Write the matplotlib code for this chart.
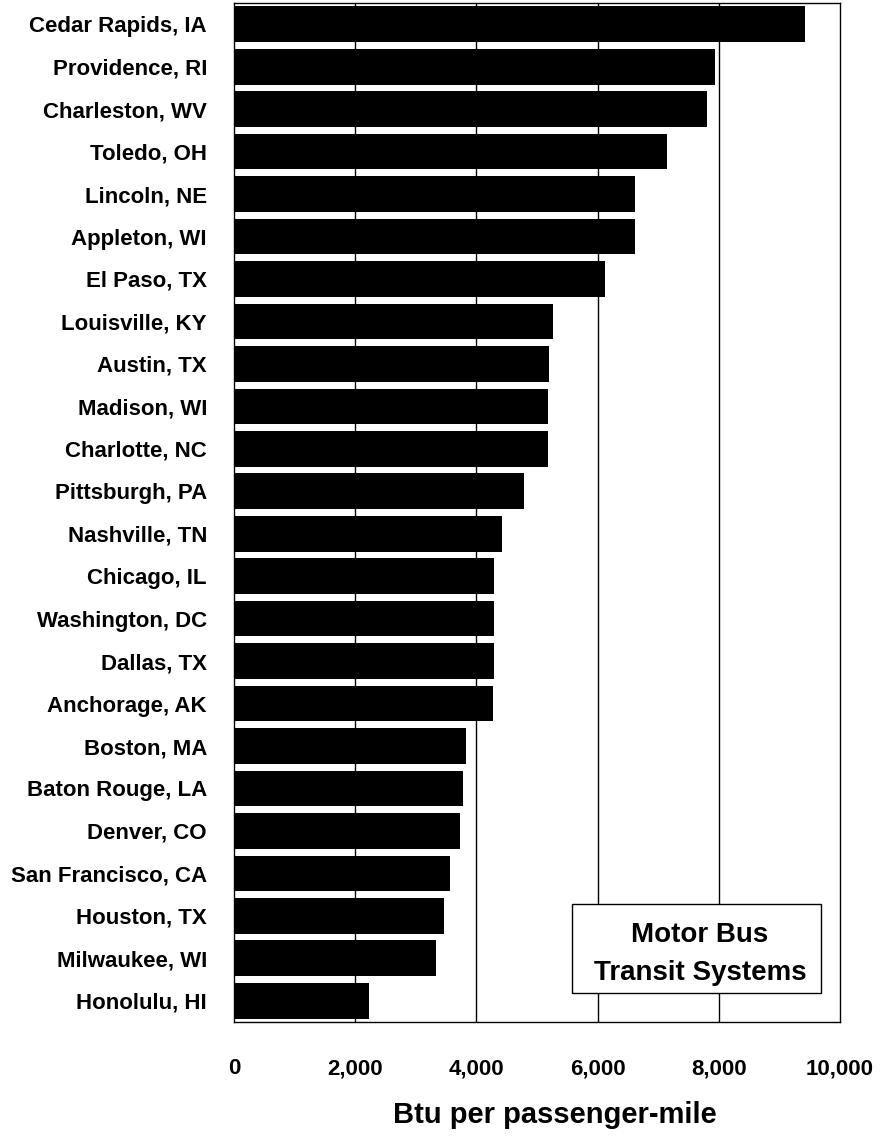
import matplotlib.pyplot as plt
from matplotlib.patches import Rectangle

plt.rcParams["font.family"] = ["Liberation Sans", "DejaVu Sans"]

cities = [
    "Cedar Rapids, IA", "Providence, RI", "Charleston, WV", "Toledo, OH",
    "Lincoln, NE", "Appleton, WI", "El Paso, TX", "Louisville, KY",
    "Austin, TX", "Madison, WI", "Charlotte, NC", "Pittsburgh, PA",
    "Nashville, TN", "Chicago, IL", "Washington, DC", "Dallas, TX",
    "Anchorage, AK", "Boston, MA", "Baton Rouge, LA", "Denver, CO",
    "San Francisco, CA", "Houston, TX", "Milwaukee, WI", "Honolulu, HI",
]
btu = [
    9420, 7930, 7800, 7150,
    6620, 6620, 6130, 5270,
    5200, 5180, 5180, 4790,
    4420, 4290, 4290, 4290,
    4270, 3830, 3780, 3730,
    3560, 3470, 3330, 2230,
]
xticks = [0, 2000, 4000, 6000, 8000, 10000]

fig = plt.figure(figsize=(8.89, 11.39), dpi=100)
ax = fig.add_axes([234 / 889, 1 - 1022 / 1139, 606 / 889, 1019 / 1139])

pos = list(range(len(cities)))
ax.barh(pos, btu, height=0.84, color="black", zorder=2)
ax.set_ylim(len(cities) - 0.5, -0.5)
ax.set_xlim(0, 10000)

# vertical gridlines sit behind the bars
for x in xticks[1:-1]:
    ax.axvline(x, color="black", linewidth=1, zorder=1)

ax.set_yticks(pos)
ax.set_yticklabels(cities, fontsize=16, fontweight="bold")
ax.set_xticks(xticks)
ax.set_xticklabels([f"{v:,}" for v in xticks], fontsize=16, fontweight="bold")
ax.tick_params(axis="y", length=0, pad=19.5)
ax.tick_params(axis="x", length=0, pad=26)
for s in ax.spines.values():
    s.set_linewidth(1)

fig.text(555 / 889, 1 - 1115 / 1139, "Btu per passenger-mile",
         ha="center", va="center", fontsize=21, fontweight="bold")

# label box in the lower right
bx0, bx1 = (572 - 234) / 606, (821 - 234) / 606
by0, by1 = (1022 - 993) / 1019, (1022 - 904) / 1019
ax.add_patch(Rectangle((bx0, by0), bx1 - bx0, by1 - by0, transform=ax.transAxes,
                       facecolor="white", edgecolor="black", linewidth=1, zorder=3))
tx = (700 - 234) / 606
ax.text(tx, (1022 - 932) / 1019, "Motor Bus", transform=ax.transAxes,
        ha="center", va="center_baseline", fontsize=20, fontweight="bold", zorder=4)
ax.text(tx, (1022 - 970) / 1019, "Transit Systems", transform=ax.transAxes,
        ha="center", va="center_baseline", fontsize=20, fontweight="bold", zorder=4)

fig.savefig("out.png", dpi=100)
